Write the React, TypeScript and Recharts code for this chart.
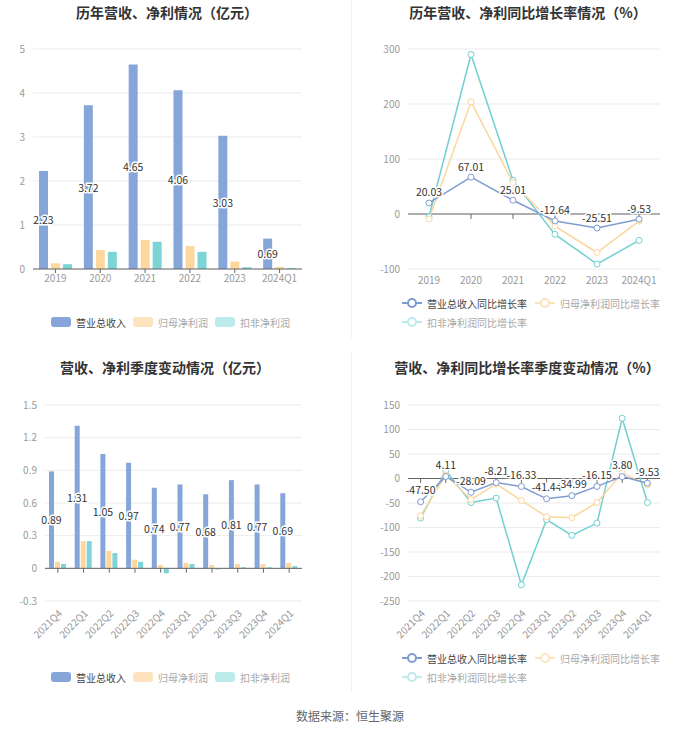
import React from 'react';
import {
  BarChart, Bar, LineChart, Line, XAxis, YAxis, CartesianGrid, LabelList, ReferenceLine,
} from 'recharts';

// ---------- data ----------
const years = ['2019', '2020', '2021', '2022', '2023', '2024Q1'];
const yearRevenue = [2.23, 3.72, 4.65, 4.06, 3.03, 0.69];
const yearNetProfit = [0.13, 0.43, 0.66, 0.52, 0.17, 0.05];
const yearDeducted = [0.11, 0.39, 0.62, 0.39, 0.04, 0.02];
const yearRevenueGrowth = [20.03, 67.01, 25.01, -12.64, -25.51, -9.53];
const yearNetProfitGrowth = [-9, 204, 57, -22, -70, -13];
const yearDeductedGrowth = [-5, 290, 61, -37, -91, -48];

const quarters = ['2021Q4', '2022Q1', '2022Q2', '2022Q3', '2022Q4', '2023Q1', '2023Q2', '2023Q3', '2023Q4', '2024Q1'];
const qRevenue = [0.89, 1.31, 1.05, 0.97, 0.74, 0.77, 0.68, 0.81, 0.77, 0.69];
const qNetProfit = [0.06, 0.25, 0.16, 0.08, 0.03, 0.05, 0.03, 0.04, 0.04, 0.05];
const qDeducted = [0.04, 0.25, 0.14, 0.06, -0.045, 0.04, -0.01, 0.01, 0.01, 0.02];
const qRevenueGrowth = [-47.5, 4.11, -28.09, -8.21, -16.33, -41.44, -34.99, -16.15, 3.8, -9.53];
const qNetProfitGrowth = [-76, 7, -43, -11, -45, -78, -80, -49, 11, -13];
const qDeductedGrowth = [-81, 16, -49, -40, -217, -84, -116, -91, 123, -49];

const yearAmountTicks = [0, 1, 2, 3, 4, 5];
const yearGrowthTicks = [-100, 0, 100, 200, 300];
const qAmountTicks = [-0.3, 0, 0.3, 0.6, 0.9, 1.2, 1.5];
const qGrowthTicks = [-250, -200, -150, -100, -50, 0, 50, 100, 150];

const barNames = ['营业总收入', '归母净利润', '扣非净利润'];
const lineNames = ['营业总收入同比增长率', '归母净利润同比增长率', '扣非净利润同比增长率'];

// ---------- tables ----------
const yearBars = years.map((c, i) => ({ c, rev: yearRevenue[i], np: yearNetProfit[i], dn: yearDeducted[i] }));
const yearLines = years.map((c, i) => ({ c, rev: yearRevenueGrowth[i], np: yearNetProfitGrowth[i], dn: yearDeductedGrowth[i] }));
const qBars = quarters.map((c, i) => ({ c, rev: qRevenue[i], np: qNetProfit[i], dn: qDeducted[i] }));
const qLines = quarters.map((c, i) => ({ c, rev: qRevenueGrowth[i], np: qNetProfitGrowth[i], dn: qDeductedGrowth[i] }));

// ---------- styles ----------
const FONT = '"Noto Sans CJK SC", "Noto Sans", sans-serif';
const BLUE = '#86a6da';
const ORANGE = '#fdd89e';
const TEAL = '#7dd4d6';
const LBLUE = '#7f9cd2';
const LORANGE = '#fcd69c';
const LTEAL = '#72cfd2';
const GRID = '#ebebeb';
const AXIS = '#666';
const TICK = { fontSize: 10, fill: '#999', fontFamily: FONT };

const BarLabel = (props: any) => {
  const { x, y, width, height, value } = props;
  return (
    <text x={x + width / 2} y={y + height / 2} textAnchor="middle" dominantBaseline="central"
      fontSize={10.5} fontFamily={FONT} fill="#333" stroke="#fff" strokeWidth={3} paintOrder="stroke">
      {Number(value).toFixed(2)}
    </text>
  );
};

const makeLineLabel = (dy: number) => (props: any) => {
  const { x, y, value } = props;
  return (
    <text x={x} y={y - dy} textAnchor="middle" dominantBaseline="central"
      fontSize={10.5} fontFamily={FONT} fill="#333" stroke="#fff" strokeWidth={3} paintOrder="stroke">
      {Number(value).toFixed(2)}
    </text>
  );
};

const Title = ({ cx, cy, text }: { cx: number; cy: number; text: string }) => (
  <div style={{
    position: 'absolute', left: cx - 175, top: cy - 10, width: 350, height: 20, lineHeight: '20px',
    textAlign: 'center', fontSize: 14, fontWeight: 'bold', color: '#333', fontFamily: FONT,
  }}>{text}</div>
);

type LegendItem = { x: number; y: number; label: string; color: string; active: boolean; kind: 'rect' | 'line' };

const LegendBox = ({ items }: { items: LegendItem[] }) => (
  <>
    {items.map((it, i) => (
      <div key={i} style={{ position: 'absolute', left: it.x, top: it.y - 8, height: 16, display: 'flex', alignItems: 'center', fontFamily: FONT }}>
        <svg width={20} height={12} style={{ display: 'block' }}>
          {it.kind === 'rect' ? (
            <rect x={0} y={1} width={20} height={10} rx={3} fill={it.color} />
          ) : (
            <g>
              <line x1={0} y1={6} x2={20} y2={6} stroke={it.color} strokeWidth={2} />
              <circle cx={10} cy={6} r={4} fill="#fff" stroke={it.color} strokeWidth={2} />
            </g>
          )}
        </svg>
        <span style={{ marginLeft: 5, fontSize: 10, color: it.active ? '#444' : '#a8a8a8', whiteSpace: 'nowrap' }}>{it.label}</span>
      </div>
    ))}
  </>
);

const barLegend = (y: number): LegendItem[] => [
  { x: 51, y, label: barNames[0], color: BLUE, active: true, kind: 'rect' },
  { x: 133, y, label: barNames[1], color: '#fde4be', active: false, kind: 'rect' },
  { x: 215, y, label: barNames[2], color: '#bdeaeb', active: false, kind: 'rect' },
];

const lineLegend = (y1: number, y2: number): LegendItem[] => [
  { x: 402, y: y1, label: lineNames[0], color: LBLUE, active: true, kind: 'line' },
  { x: 535, y: y1, label: lineNames[1], color: '#fde4be', active: false, kind: 'line' },
  { x: 402, y: y2, label: lineNames[2], color: '#bdeaeb', active: false, kind: 'line' },
];

const dotStyle = (c: string) => ({ r: 3, fill: '#fff', stroke: c, strokeWidth: 1 });

export default function App() {
  return (
    <div style={{ position: 'absolute', left: 0, top: 0, width: 700, height: 733, background: '#fff', fontFamily: FONT, overflow: 'hidden' }}>
      {/* separators */}
      <div style={{ position: 'absolute', left: 351, top: 0, width: 1, height: 338, background: '#f0f0f0' }} />
      <div style={{ position: 'absolute', left: 351, top: 352, width: 1, height: 340, background: '#f0f0f0' }} />

      <Title cx={167} cy={12} text="历年营收、净利情况（亿元）" />
      <Title cx={528} cy={12} text="历年营收、净利同比增长率情况（%）" />
      <Title cx={165} cy={367} text="营收、净利季度变动情况（亿元）" />
      <Title cx={527} cy={367} text="营收、净利同比增长率季度变动情况（%）" />

      {/* top-left */}
      <div style={{ position: 'absolute', left: 0, top: 0 }}>
        <BarChart width={350} height={300} data={yearBars} margin={{ top: 49, right: 48, bottom: 1, left: 8 }} barSize={9} barGap={3}>
          <CartesianGrid vertical={false} stroke={GRID} />
          <XAxis dataKey="c" height={30} tick={TICK} axisLine={{ stroke: AXIS }} tickLine={{ stroke: AXIS }} tickSize={4} interval={0} />
          <YAxis width={25} domain={[0, 5]} ticks={yearAmountTicks} tick={TICK} axisLine={false} tickLine={false} />
          <Bar dataKey="rev" fill={BLUE} isAnimationActive={false}>
            <LabelList dataKey="rev" content={BarLabel} />
          </Bar>
          <Bar dataKey="np" fill={ORANGE} isAnimationActive={false} />
          <Bar dataKey="dn" fill={TEAL} isAnimationActive={false} />
        </BarChart>
      </div>

      {/* top-right */}
      <div style={{ position: 'absolute', left: 350, top: 0 }}>
        <LineChart width={350} height={300} data={yearLines} margin={{ top: 49, right: 40, bottom: 1, left: 18 }}>
          <CartesianGrid vertical={false} stroke={GRID} />
          <XAxis dataKey="c" height={30} tick={TICK} axisLine={false} tickLine={false} interval={0} padding={{ left: 21, right: 21 }} />
          <YAxis width={40} domain={[-100, 300]} ticks={yearGrowthTicks} tick={TICK} axisLine={false} tickLine={false} />
          <ReferenceLine y={0} stroke={AXIS} />
          {years.map((c) => (
            <ReferenceLine key={c} segment={[{ x: c, y: 0 }, { x: c, y: -9 }]} stroke={AXIS} />
          ))}
          <Line dataKey="dn" stroke={LTEAL} strokeWidth={1.5} dot={dotStyle(LTEAL)} activeDot={false} isAnimationActive={false} />
          <Line dataKey="np" stroke={LORANGE} strokeWidth={1.5} dot={dotStyle(LORANGE)} activeDot={false} isAnimationActive={false} />
          <Line dataKey="rev" stroke={LBLUE} strokeWidth={1.5} dot={dotStyle(LBLUE)} activeDot={false} isAnimationActive={false}>
            <LabelList dataKey="rev" content={makeLineLabel(11)} />
          </Line>
        </LineChart>
      </div>

      {/* bottom-left */}
      <div style={{ position: 'absolute', left: 0, top: 356 }}>
        <BarChart width={350} height={300} data={qBars} margin={{ top: 49, right: 48, bottom: 5, left: 10 }} barSize={5} barGap={1}>
          <CartesianGrid vertical={false} stroke={GRID} />
          <XAxis dataKey="c" height={50} tick={TICK} axisLine={false} tickLine={false} interval={0} angle={-45} textAnchor="end" />
          <YAxis width={35} domain={[-0.3, 1.5]} ticks={qAmountTicks} tick={TICK} axisLine={false} tickLine={false} />
          <ReferenceLine y={0} stroke={AXIS} />
          {quarters.map((c) => (
            <ReferenceLine key={c} segment={[{ x: c, y: 0 }, { x: c, y: -0.04 }]} stroke={AXIS} />
          ))}
          <Bar dataKey="rev" fill={BLUE} isAnimationActive={false}>
            <LabelList dataKey="rev" content={BarLabel} />
          </Bar>
          <Bar dataKey="np" fill={ORANGE} isAnimationActive={false} />
          <Bar dataKey="dn" fill={TEAL} isAnimationActive={false} />
        </BarChart>
      </div>

      {/* bottom-right */}
      <div style={{ position: 'absolute', left: 350, top: 356 }}>
        <LineChart width={350} height={300} data={qLines} margin={{ top: 49, right: 40, bottom: 5, left: 18 }}>
          <CartesianGrid vertical={false} stroke={GRID} />
          <XAxis dataKey="c" height={50} tick={TICK} axisLine={false} tickLine={false} interval={0} angle={-45} textAnchor="end" padding={{ left: 12.6, right: 12.6 }} />
          <YAxis width={40} domain={[-250, 150]} ticks={qGrowthTicks} tick={TICK} axisLine={false} tickLine={false} />
          <ReferenceLine y={0} stroke={AXIS} />
          {quarters.map((c) => (
            <ReferenceLine key={c} segment={[{ x: c, y: 0 }, { x: c, y: -9 }]} stroke={AXIS} />
          ))}
          <Line dataKey="dn" stroke={LTEAL} strokeWidth={1.5} dot={dotStyle(LTEAL)} activeDot={false} isAnimationActive={false} />
          <Line dataKey="np" stroke={LORANGE} strokeWidth={1.5} dot={dotStyle(LORANGE)} activeDot={false} isAnimationActive={false} />
          <Line dataKey="rev" stroke={LBLUE} strokeWidth={1.5} dot={dotStyle(LBLUE)} activeDot={false} isAnimationActive={false}>
            <LabelList dataKey="rev" content={makeLineLabel(12)} />
          </Line>
        </LineChart>
      </div>

      <LegendBox items={barLegend(322)} />
      <LegendBox items={lineLegend(303, 322)} />
      <LegendBox items={barLegend(677)} />
      <LegendBox items={lineLegend(658, 677)} />

      <div style={{ position: 'absolute', left: 0, top: 707, width: 700, textAlign: 'center', fontSize: 12, color: '#666', fontFamily: FONT, lineHeight: '18px' }}>
        数据来源：恒生聚源
      </div>
    </div>
  );
}
